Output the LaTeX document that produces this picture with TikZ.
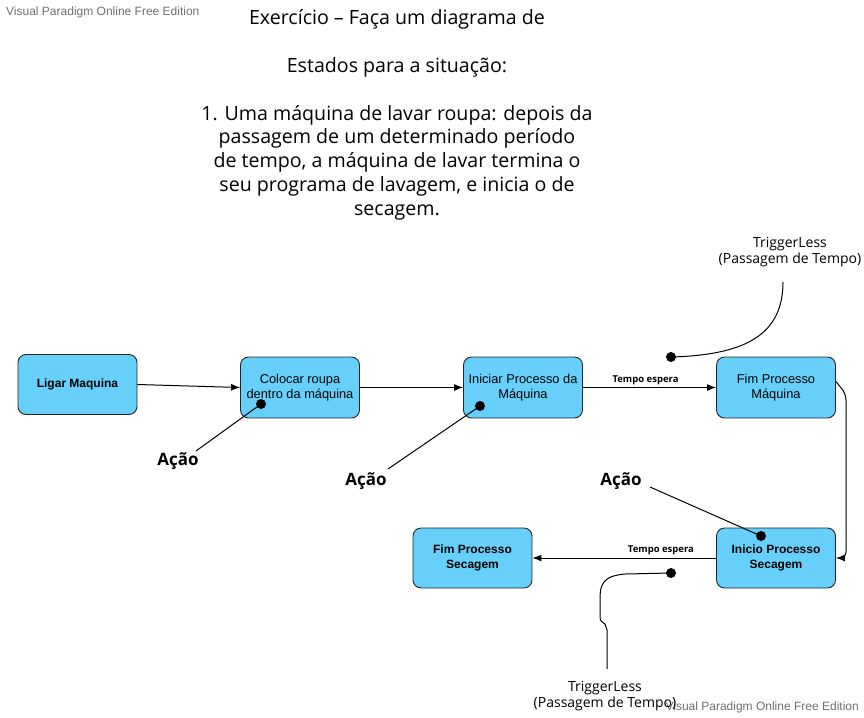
\documentclass[tikz,border=0pt]{standalone}
\usepackage{fontspec}
\setmainfont{Open Sans}
\newfontfamily\arialf{Liberation Sans}
\usetikzlibrary{arrows.meta}
\definecolor{boxblue}{RGB}{102,208,250}
\definecolor{wmgray}{RGB}{110,110,110}
\tikzset{
  stbox/.style={draw=black!85, fill=boxblue, rounded corners=8pt, minimum width=119pt, minimum height=60pt, align=center, font=\arialf\fontsize{12.8}{15}\selectfont, inner sep=2pt, line width=0.9pt},
  bx/.style={font=\arialf\fontsize{12}{15}\selectfont\bfseries},
  conn/.style={line width=1pt, -{Latex[length=9pt,width=7pt]}},
  note/.style={line width=1pt},
  dotc/.style={circle, fill=black, inner sep=0pt, minimum size=10pt},
  acao/.style={font=\fontsize{17}{20}\selectfont\bfseries},
  trig/.style={font=\fontsize{14}{16.5}\selectfont, align=center},
  lbl/.style={font=\fontsize{9.5}{11}\selectfont\bfseries},
  wm/.style={font=\arialf\fontsize{12}{14}\selectfont, text=wmgray, inner sep=0pt}
}
\begin{document}
\begin{tikzpicture}[x=1pt,y=-1pt]
\useasboundingbox (0,0) rectangle (864,717);
% watermarks
\node[wm, anchor=west] (wm1) at (6,12) {Visual Paradigm Online Free Edition};
\node[wm, anchor=east] (wm2) at (859,707) {Visual Paradigm Online Free Edition};
% title
\node[font=\fontsize{19.6}{23.8}\selectfont, align=center, anchor=north] (title) at (397,6)
 {Exercício – Faça um diagrama de\\[24pt]Estados para a situação:\\[24pt]1. Uma máquina de lavar roupa: depois da\\passagem de um determinado período\\de tempo, a máquina de lavar termina o\\seu programa de lavagem, e inicia o de\\secagem.};
% states
\node[stbox, bx] (ligar) at (77.5,384.5) {Ligar Maquina};
\node[stbox, minimum height=61pt] (colocar) at (300,387.5) {Colocar roupa\\dentro da máquina};
\node[stbox, minimum height=61pt] (iniciar) at (523,387.5) {Iniciar Processo da\\Máquina};
\node[stbox, minimum height=61pt] (fimmaq) at (776,387.5) {Fim Processo\\Máquina};
\node[stbox, bx] (inisec) at (776,558) {Inicio Processo\\Secagem};
\node[stbox, bx] (fimsec) at (472.5,558) {Fim Processo\\Secagem};
% transitions
\draw[conn] (ligar.east) -- (colocar.west);
\draw[conn] (colocar.east) -- (iniciar.west);
\draw[conn] (iniciar.east) -- node[lbl, above, pos=0.47, yshift=-1pt] (te1) {Tempo espera} (fimmaq.west);
\coordinate (r1) at (846,394);
\coordinate (r2) at (846,558);
\draw[conn, rounded corners=6pt] ([yshift=6pt]fimmaq.east) -- (r1) -- (r2) -- (inisec.east);
\draw[conn] (inisec.west) -- node[lbl, above, pos=0.30, yshift=-1pt] (te2) {Tempo espera} (fimsec.east);
% action notes
\node[dotc] (d1) at (261,404) {};
\node[acao] (a1) at (178,461) {Ação};
\draw[note] (d1.center) -- (196,451);
\node[dotc] (d2) at (480,406) {};
\node[acao] (a2) at (366,481) {Ação};
\draw[note] (d2.center) -- (388,469);
\node[dotc] (d3) at (761,536) {};
\node[acao] (a3) at (621,481) {Ação};
\draw[note] (650,487) -- (d3.center);
% trigger notes
\node[trig] (t1) at (790,252) {TriggerLess\\(Passagem de Tempo)};
\node[dotc] (d4) at (671,357) {};
\draw[note] (d4.center) .. controls (745,355) and (783,335) .. (783,282);
\node[trig] (t2) at (605,696) {TriggerLess\\(Passagem de Tempo)};
\node[dotc] (d5) at (671,573) {};
\draw[note] (d5.center) -- (625,574) .. controls (602,576) and (600,585) .. (600,600)
  -- (600,617) .. controls (600,622) and (603,622) .. (605,624) -- (607,630) -- (607,669);
\end{tikzpicture}
\end{document}
